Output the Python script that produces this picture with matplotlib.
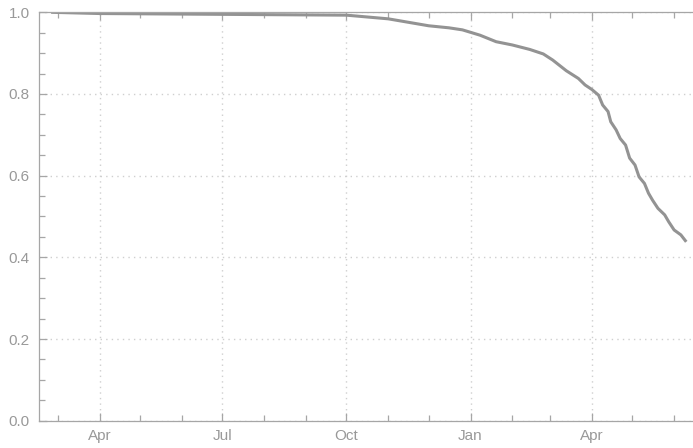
import pandas as pd
import matplotlib.pyplot as plt
import matplotlib.dates as mdates
from matplotlib.ticker import MultipleLocator

# ==========================================================
# Data
# ==========================================================

dates = [
    "2020-02-25", "2020-04-01", "2020-07-01", "2020-10-01", "2020-11-01",
    "2020-12-01", "2020-12-16", "2020-12-26", "2021-01-01", "2021-01-08",
    "2021-01-20", "2021-02-01", "2021-02-14", "2021-02-24", "2021-03-03",
    "2021-03-13", "2021-03-22", "2021-03-27", "2021-04-01", "2021-04-06",
    "2021-04-09", "2021-04-13", "2021-04-15", "2021-04-19", "2021-04-22",
    "2021-04-26", "2021-04-29", "2021-05-03", "2021-05-06", "2021-05-10",
    "2021-05-13", "2021-05-16", "2021-05-20", "2021-05-25", "2021-05-28",
    "2021-06-01", "2021-06-06", "2021-06-10",
]

values = [
    1.000, 0.997, 0.995, 0.993, 0.984,
    0.967, 0.962, 0.957, 0.951, 0.944,
    0.928, 0.920, 0.909, 0.898, 0.883,
    0.857, 0.838, 0.822, 0.811, 0.797,
    0.773, 0.757, 0.732, 0.712, 0.691,
    0.675, 0.643, 0.626, 0.597, 0.581,
    0.557, 0.540, 0.520, 0.504, 0.487,
    0.467, 0.455, 0.438,
]

x_start = "2020-02-16"
x_end = "2021-06-15"

dates = pd.to_datetime(dates)

# ==========================================================
# Style
# ==========================================================

plt.rcParams["font.family"] = ["Liberation Sans", "DejaVu Sans"]

FRAME = "#a6a6a6"
TEXT = "#999999"
LINE = "#939393"
GRID = "#cfcfcf"

# ==========================================================
# Plot
# ==========================================================

fig = plt.figure(figsize=(6.93, 4.48), dpi=100)
ax = fig.add_axes([39 / 693, 1 - 420.7 / 448, 1 - 39 / 693, (420.7 - 12.3) / 448])

ax.plot(dates, values, color=LINE, linewidth=2.2, solid_capstyle="butt")

ax.set_xlim(pd.Timestamp(x_start), pd.Timestamp(x_end))
ax.set_ylim(0, 1)

ax.xaxis.set_major_locator(mdates.MonthLocator(bymonth=[1, 4, 7, 10]))
ax.xaxis.set_major_formatter(mdates.DateFormatter("%b"))
ax.xaxis.set_minor_locator(mdates.MonthLocator())

ax.yaxis.set_major_locator(MultipleLocator(0.2))
ax.yaxis.set_minor_locator(MultipleLocator(0.05))
ax.yaxis.set_major_formatter(plt.FormatStrFormatter("%.1f"))

ax.grid(True, which="major", linestyle=(0, (1, 3)), color=GRID, linewidth=1.0)

for side in ["left", "bottom", "top"]:
    ax.spines[side].set_color(FRAME)
    ax.spines[side].set_linewidth(0.9)
ax.spines["right"].set_visible(False)

ax.tick_params(which="both", direction="in", color=FRAME, width=0.9,
               top=True, right=False, labelcolor=TEXT, labelsize=11)
ax.tick_params(which="major", length=6)
ax.tick_params(which="minor", length=4)
ax.tick_params(axis="x", pad=6)
ax.tick_params(axis="y", pad=6.5)

plt.savefig("out.png", dpi=100)
plt.close()
